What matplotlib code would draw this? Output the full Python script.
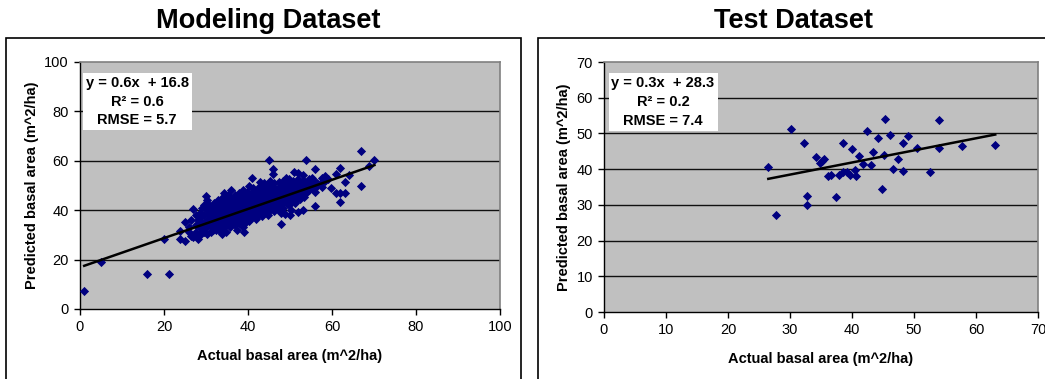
import numpy as np
import matplotlib
matplotlib.use("Agg")
import matplotlib.pyplot as plt
from matplotlib.patches import Rectangle

plt.rcParams['font.family'] = ['Liberation Sans', 'DejaVu Sans']

# ---------------- data ----------------
# Modeling dataset: individually readable points
model_x = [1.0, 4.9, 15.9, 21.1, 20.0, 23.9, 23.9, 25.0, 25.0, 27.0, 27.0, 28.0, 28.0,
           29.9, 29.0, 31.7, 33.9, 35.9, 39.0, 40.9, 42.9, 45.1, 46.0, 46.0, 47.9, 49.0,
           51.0, 53.8, 53.0, 53.0, 56.0, 56.0, 56.0, 56.0, 59.1, 59.8, 61.0, 61.0, 61.9,
           61.9, 61.9, 63.1, 63.1, 64.1, 66.9, 66.9, 68.9, 70.1, 52.0, 54.7, 52.0, 50.0]
model_y = [7.4, 19.0, 14.0, 14.0, 28.3, 31.6, 28.3, 35.3, 27.7, 40.5, 29.3, 28.3, 36.1,
           45.9, 31.4, 32.0, 30.3, 48.0, 31.0, 53.0, 51.5, 60.3, 56.5, 54.6, 34.5, 52.9,
           55.6, 60.3, 54.2, 40.1, 56.5, 51.5, 47.5, 41.5, 52.5, 48.9, 54.6, 46.8, 56.9,
           47.1, 43.2, 46.8, 51.5, 54.2, 63.9, 49.8, 57.9, 60.3, 54.9, 51.5, 39.4, 38.1]

# Modeling dataset: dense core (estimated), grouped by actual value
core_x = [26.0, 26.5, 27.5, 28.5, 29.0, 29.5, 30.3, 30.8, 31.3, 31.8, 32.3, 32.8, 33.3,
          33.8, 34.3, 34.8, 35.3, 35.8, 36.3, 36.8, 37.3, 37.8, 38.3, 38.8, 39.3, 39.8,
          40.3, 40.8, 41.3, 41.8, 42.3, 42.8, 43.3, 43.8, 44.3, 44.8, 45.3, 45.8, 46.3,
          46.8, 47.3, 47.8, 48.3, 48.8, 49.3, 49.8, 50.3, 50.8, 51.3, 51.8, 52.3, 52.8,
          53.3, 53.8, 54.5, 55.3, 56.5, 57.5, 58.3]
core_y = [[33, 31], [36, 29.5], [34, 38, 31], [33, 37, 30, 39], [35, 41, 32.5],
          [38, 34, 42, 31], [36, 40, 33, 44, 30.5], [38.5, 35, 42],
          [37, 41, 33.5, 39.5, 31], [36, 43, 38, 34.5], [40, 37.5, 35, 42.5, 32],
          [39, 36.5, 44, 33], [41, 38, 35.5, 43, 31.5], [37, 40.5, 45, 34],
          [39.5, 36, 42, 33, 47], [38, 41.5, 35, 44, 31], [40, 37, 43.5, 34.5, 46],
          [39, 42, 36, 45, 33], [41, 38, 44, 35.5, 40.5], [37, 43, 39.5, 46, 34],
          [42, 38.5, 40, 45, 36, 32], [41, 44, 37.5, 39, 47, 35],
          [40, 43, 38, 45.5, 36.5, 42], [39, 41.5, 44.5, 37, 48, 33],
          [42, 40.5, 38, 46, 35, 43.5], [41, 44, 39, 47.5, 37, 36],
          [43, 40, 45, 38.5, 50, 35.5], [42, 44.5, 39.5, 47, 41, 37],
          [43.5, 40.5, 46, 38, 49, 42], [41, 44, 47.5, 39, 36.5, 45],
          [43, 46, 40, 48.5, 42, 38], [44, 41.5, 47, 50, 39, 45.5],
          [42.5, 46, 44, 40, 49, 37.5], [45, 43, 47.5, 41, 51, 39],
          [44, 46.5, 42, 49, 40.5, 48], [45.5, 43, 48, 41.5, 50.5, 38],
          [44.5, 47, 42.5, 46, 52, 40], [46, 43.5, 49, 41, 50, 45],
          [44.5, 47.5, 42, 51, 39.5], [46, 43, 48.5, 41.5, 45],
          [45, 49, 42.5, 47, 51.5, 40], [47.5, 44, 50, 42, 39],
          [46, 48.5, 43.5, 52, 41], [47, 45, 50.5, 44, 38.5], [48, 46, 51, 43, 49.5],
          [45, 49, 47, 42, 52.5], [48.5, 46.5, 50, 44, 40], [47, 49.5, 45, 52],
          [48, 46, 50.5, 43], [49, 47, 52.5, 45], [50, 48, 46, 44.5], [49, 51.5, 47],
          [50.5, 48, 45.5, 52], [49.5, 51, 47], [50, 52.5, 48], [51, 49, 53], [51, 50],
          [51.5, 53, 49.5], [52, 54]]

# Test dataset
test_x = [26.5, 27.7, 30.2, 32.2, 32.8, 32.8, 34.2, 34.9, 35.5, 35.2, 36.2, 36.6, 37.4,
          38.5, 37.9, 38.6, 39.2, 39.6, 40.05, 40.5, 40.6, 41.2, 41.8, 42.4, 43.1, 43.4,
          44.2, 44.8, 45.4, 45.2, 46.1, 46.6, 47.4, 48.2, 48.2, 49.1, 50.5, 52.5, 54.1,
          54.1, 57.7, 63.1]
test_y = [40.6, 27.3, 51.3, 47.4, 32.5, 30.0, 43.4, 41.6, 42.8, 42.2, 38.2, 38.5, 32.2,
          47.4, 38.5, 39.2, 39.2, 38.5, 45.6, 39.7, 38.2, 43.7, 41.5, 50.8, 41.3, 44.9,
          48.6, 34.5, 54.1, 44.1, 49.5, 40.1, 42.8, 47.4, 39.5, 49.2, 45.8, 39.1, 53.9,
          45.8, 46.6, 46.8]

model_fit = (0.59, 16.9)   # slope, intercept of drawn trend line
test_fit = (0.339, 28.3)

model_text = "y = 0.6x  + 16.8\nR\u00b2 = 0.6\nRMSE = 5.7"
test_text = "y = 0.3x  + 28.3\nR\u00b2 = 0.2\nRMSE = 7.4"

model_xticks = [0, 20, 40, 60, 80, 100]
model_yticks = [0, 20, 40, 60, 80, 100]
test_xticks = [0, 10, 20, 30, 40, 50, 60, 70]
test_yticks = [0, 10, 20, 30, 40, 50, 60, 70]

xlabel = "Actual basal area (m^2/ha)"
ylabel = "Predicted basal area (m^2/ha)"

# ---------------- figure ----------------
W, H = 1045, 379
fig = plt.figure(figsize=(W / 100, H / 100), dpi=100)
fig.patch.set_facecolor("white")


def fx(px):
    return px / W


def fy(py):
    return 1 - py / H


# chart frames
fig.patches.append(Rectangle((fx(6), -0.05), fx(521) - fx(6), fy(38) + 0.05,
                             transform=fig.transFigure, fill=False, ec="black", lw=1.2))
fig.patches.append(Rectangle((fx(538), -0.05), fx(1060) - fx(538), fy(38) + 0.05,
                             transform=fig.transFigure, fill=False, ec="black", lw=1.2))

fig.text(fx(268), fy(21), "Modeling Dataset", ha="center", va="center",
         fontsize=19.5, fontweight="bold")
fig.text(fx(793), fy(21), "Test Dataset", ha="center", va="center",
         fontsize=19.5, fontweight="bold")

ax1 = fig.add_axes([fx(80), fy(309), fx(500) - fx(80), fy(62) - fy(309)])
ax2 = fig.add_axes([fx(604), fy(312), fx(1038) - fx(604), fy(62) - fy(312)])

all_mx = list(model_x)
all_my = list(model_y)
for cx, ys in zip(core_x, core_y):
    all_mx += [cx] * len(ys)
    all_my += list(ys)


def style(ax, xt, yt, xs, ys, fit, txt):
    ax.set_facecolor("#C0C0C0")
    ax.scatter(xs, ys, marker="D", s=22, color="#000080", linewidths=0, zorder=3)
    xx = np.array([min(xs), max(xs)])
    ax.plot(xx, fit[0] * xx + fit[1], color="black", lw=1.8, zorder=4)
    ax.set_xlim(xt[0], xt[-1])
    ax.set_ylim(yt[0], yt[-1])
    ax.set_xticks(xt)
    ax.set_yticks(yt)
    for y in yt[1:-1]:
        ax.axhline(y, color="#101010", lw=1.0, zorder=1)
    for s in ("top", "right"):
        ax.spines[s].set_color("#808080")
        ax.spines[s].set_linewidth(1.2)
    for s in ("left", "bottom"):
        ax.spines[s].set_color("black")
        ax.spines[s].set_linewidth(1.0)
    ax.tick_params(direction="out", length=4, width=1, labelsize=10.5, color="black", pad=4)
    ax.set_xlabel(xlabel, fontsize=10.5, fontweight="bold", labelpad=11)
    ax.set_ylabel(ylabel, fontsize=10.5, fontweight="bold", labelpad=4)
    ax.text(0.136, 0.84, txt, transform=ax.transAxes, ha="center", va="center",
            multialignment="center", fontsize=10.5, fontweight="bold", linespacing=1.45,
            bbox=dict(boxstyle="square,pad=0.2", fc="white", ec="none"), zorder=6)


style(ax1, model_xticks, model_yticks, all_mx, all_my, model_fit, model_text)
style(ax2, test_xticks, test_yticks, test_x, test_y, test_fit, test_text)

fig.savefig("out.png", dpi=100)
